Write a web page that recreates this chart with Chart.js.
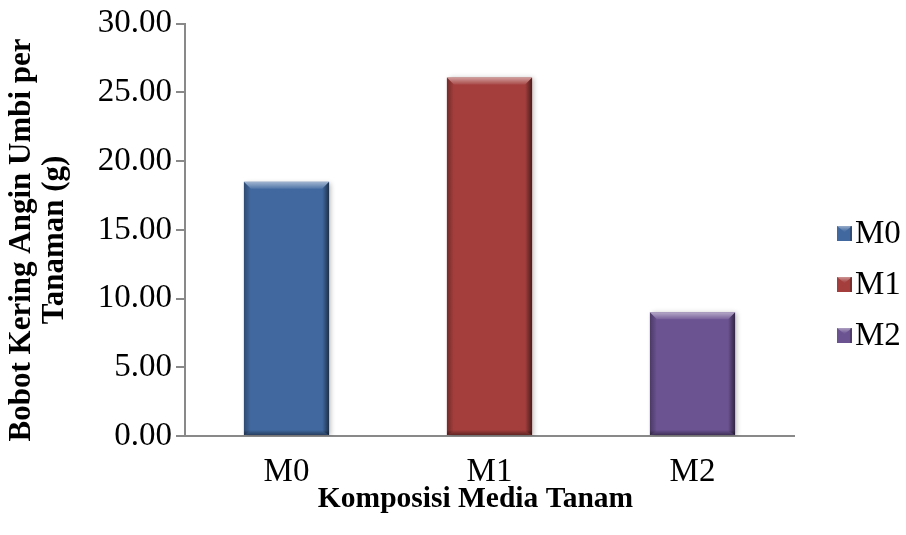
<!DOCTYPE html>
<html>
<head>
<meta charset="utf-8">
<script src="https://cdn.jsdelivr.net/npm/chart.js@4.4.1/dist/chart.umd.min.js"></script>
<style>
  html, body { margin: 0; padding: 0; background: #ffffff; }
  #wrap { width: 906px; height: 535px; }
</style>
</head>
<body>
<div id="wrap"><canvas id="chart" width="906" height="535"></canvas></div>
<script>
// Treatment categories and measured air-dried tuber weight per plant (g)
const categories = ['M0', 'M1', 'M2'];
const values = [18.5, 26.1, 9.0];
const barColors = ['#4169A0', '#A33E3C', '#6B5291'];
const yTitleLines = ['Bobot Kering Angin Umbi per', 'Tanaman (g)'];
const xTitle = 'Komposisi Media Tanam';

const FONT = "'Liberation Serif', 'Times New Roman', serif";
const AXIS_GRAY = '#898989';

// Bevel shading on each bar: darker sides and bottom, light top edge.
const bevelPlugin = {
  id: 'bevel',
  beforeDatasetDraw(chart) {
    const ctx = chart.ctx;
    ctx.save();
    ctx.shadowColor = 'rgba(0,0,0,0.28)';
    ctx.shadowBlur = 5;
    ctx.shadowOffsetX = 2;
    ctx.shadowOffsetY = 1;
  },
  afterDatasetDraw(chart) {
    const ctx = chart.ctx;
    ctx.restore();
    const meta = chart.getDatasetMeta(0);
    meta.data.forEach((bar) => {
      const p = bar.getProps(['x', 'y', 'base', 'width'], true);
      const l = p.x - p.width / 2, r = p.x + p.width / 2;
      const t = Math.min(p.y, p.base), b = Math.max(p.y, p.base);
      const e = 7;
      ctx.save();
      ctx.beginPath();
      ctx.rect(l, t, r - l, b - t);
      ctx.clip();
      // left edge
      let g = ctx.createLinearGradient(l, 0, l + e, 0);
      g.addColorStop(0, 'rgba(0,0,0,0.30)');
      g.addColorStop(1, 'rgba(0,0,0,0)');
      ctx.fillStyle = g;
      ctx.beginPath();
      ctx.moveTo(l, t); ctx.lineTo(l + e, t + e); ctx.lineTo(l + e, b - 4); ctx.lineTo(l, b);
      ctx.closePath(); ctx.fill();
      // right edge
      g = ctx.createLinearGradient(r, 0, r - e, 0);
      g.addColorStop(0, 'rgba(0,0,0,0.55)');
      g.addColorStop(1, 'rgba(0,0,0,0)');
      ctx.fillStyle = g;
      ctx.beginPath();
      ctx.moveTo(r, t); ctx.lineTo(r - e, t + e); ctx.lineTo(r - e, b - 4); ctx.lineTo(r, b);
      ctx.closePath(); ctx.fill();
      // top highlight
      g = ctx.createLinearGradient(0, t, 0, t + e);
      g.addColorStop(0, 'rgba(255,255,255,0.50)');
      g.addColorStop(1, 'rgba(255,255,255,0.08)');
      ctx.fillStyle = g;
      ctx.beginPath();
      ctx.moveTo(l, t); ctx.lineTo(r, t); ctx.lineTo(r - e, t + e); ctx.lineTo(l + e, t + e);
      ctx.closePath(); ctx.fill();
      // bottom shade
      g = ctx.createLinearGradient(0, b, 0, b - 5);
      g.addColorStop(0, 'rgba(0,0,0,0.40)');
      g.addColorStop(1, 'rgba(0,0,0,0)');
      ctx.fillStyle = g;
      ctx.fillRect(l, b - 5, r - l, 5);
      ctx.restore();
    });
  }
};

// Axis titles and the side legend, placed around the plot area.
const labelsPlugin = {
  id: 'sideLabels',
  afterDraw(chart) {
    const ctx = chart.ctx;
    const area = chart.chartArea;
    ctx.save();
    ctx.fillStyle = '#000000';
    ctx.textAlign = 'center';
    ctx.textBaseline = 'middle';

    // vertical title, two lines
    ctx.font = 'bold 31px ' + FONT;
    const yMid = (area.top + area.bottom) / 2 + 10;
    yTitleLines.forEach((line, i) => {
      ctx.save();
      ctx.translate(area.left - 163 + i * 33, yMid);
      ctx.rotate(-Math.PI / 2);
      ctx.fillText(line, 0, 0);
      ctx.restore();
    });

    // horizontal title
    ctx.font = 'bold 29.5px ' + FONT;
    ctx.fillText(xTitle, 475.5, 499);

    // legend
    ctx.font = '33px ' + FONT;
    ctx.textAlign = 'left';
    categories.forEach((c, i) => {
      const cy = 233 + i * 51;
      const bx = 837, by = cy - 7, s = 15;
      ctx.fillStyle = barColors[i];
      ctx.fillRect(bx, by, s, s);
      const g = ctx.createLinearGradient(0, by, 0, by + 5);
      g.addColorStop(0, 'rgba(255,255,255,0.45)');
      g.addColorStop(1, 'rgba(255,255,255,0.05)');
      ctx.fillStyle = g;
      ctx.beginPath();
      ctx.moveTo(bx, by); ctx.lineTo(bx + s, by); ctx.lineTo(bx + s / 2, by + 6);
      ctx.closePath(); ctx.fill();
      ctx.fillStyle = 'rgba(0,0,0,0.25)';
      ctx.fillRect(bx + s - 2, by, 2, s);
      ctx.fillStyle = '#000000';
      ctx.fillText(c, 855, cy + 1);
    });
    ctx.restore();
  }
};

new Chart(document.getElementById('chart'), {
  type: 'bar',
  data: {
    labels: categories,
    datasets: [{
      data: values,
      backgroundColor: barColors,
      borderWidth: 0,
      barPercentage: 0.42,
      categoryPercentage: 1.0
    }]
  },
  options: {
    responsive: false,
    animation: false,
    devicePixelRatio: 1,
    layout: { padding: { left: 0, right: 112, top: 17, bottom: 0 } },
    plugins: {
      tooltip: { enabled: false },
      legend: { display: false }
    },
    scales: {
      x: {
        afterFit: (scale) => { scale.height = 99; },
        grid: { display: false },
        border: { display: true, color: AXIS_GRAY, width: 2 },
        ticks: { font: { family: FONT, size: 33 }, color: '#000000', padding: 9 }
      },
      y: {
        min: 0,
        max: 30,
        afterFit: (scale) => { scale.width = 185; },
        grid: { drawOnChartArea: false, drawTicks: true, tickLength: 9, color: AXIS_GRAY, lineWidth: 2 },
        border: { display: true, color: AXIS_GRAY, width: 2 },
        ticks: {
          stepSize: 5,
          padding: 4,
          font: { family: FONT, size: 33 },
          color: '#000000',
          callback: (v) => Number(v).toFixed(2)
        }
      }
    }
  },
  plugins: [bevelPlugin, labelsPlugin]
});
</script>
</body>
</html>
